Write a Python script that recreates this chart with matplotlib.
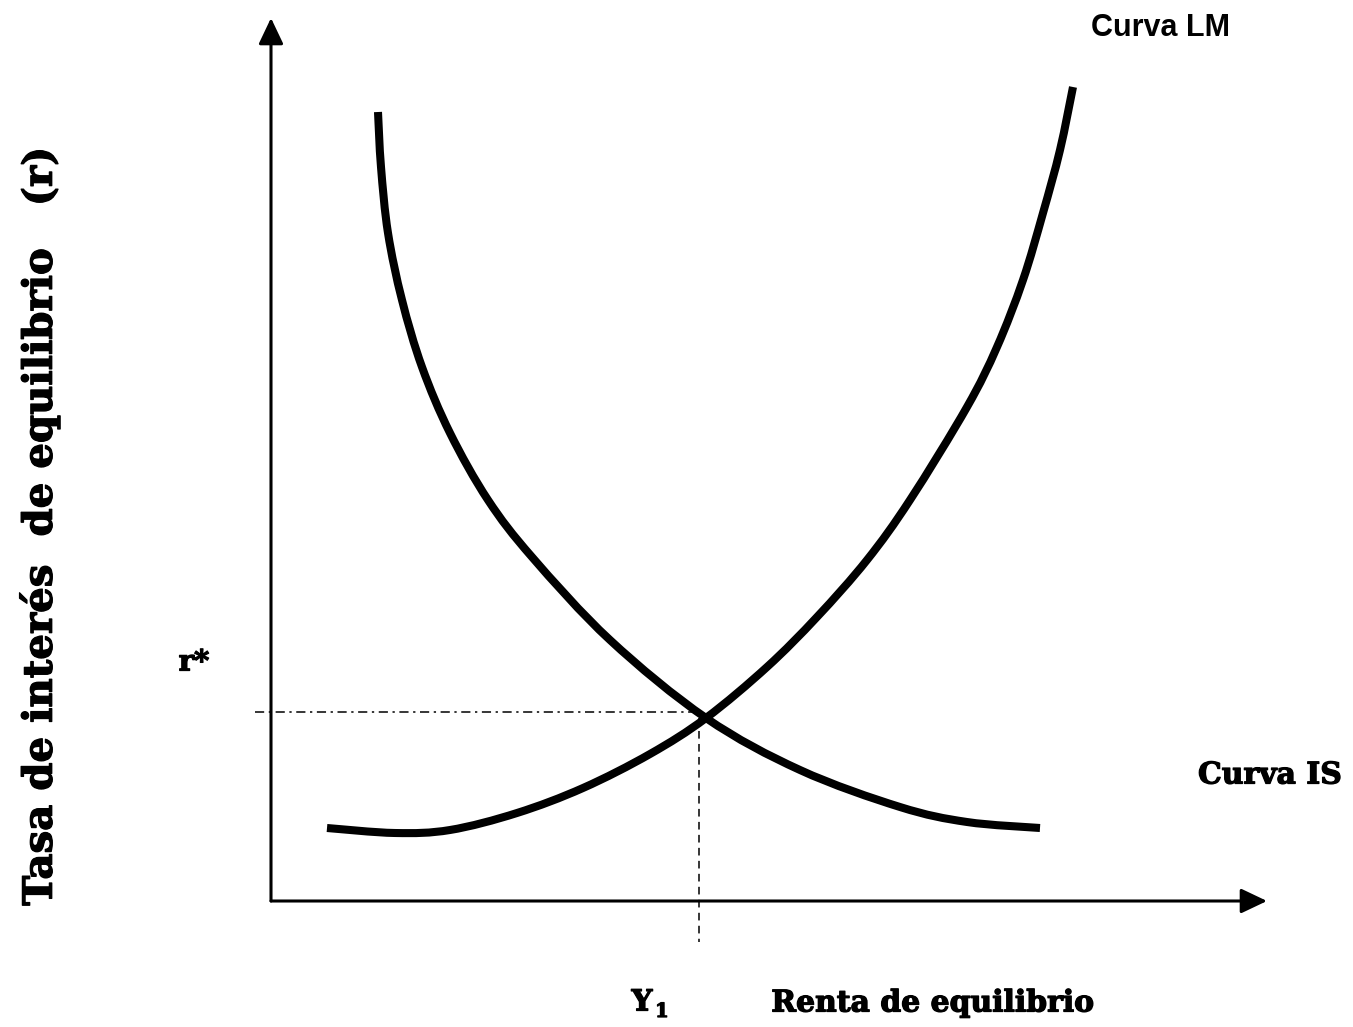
import matplotlib
matplotlib.use('Agg')
import matplotlib.pyplot as plt
import matplotlib.patheffects as pe
from matplotlib.path import Path
from matplotlib.patches import PathPatch

# curve points (income Y, interest rate r)
is_y = [1.07, 1.10, 1.17, 1.31, 1.51, 1.79, 2.17, 2.61, 3.39, 4.35, 5.29, 6.29, 6.96, 7.69]
is_r = [7.89, 7.34, 6.68, 6.01, 5.34, 4.68, 4.01, 3.44, 2.61, 1.83, 1.31, 0.94, 0.79, 0.73]

lm_y = [0.56, 1.24, 1.79, 2.46, 3.12, 3.79, 4.35, 4.96, 5.46, 5.96, 6.39, 6.96, 7.26, 7.52, 7.72, 7.89, 8.02]
lm_r = [0.73, 0.68, 0.71, 0.88, 1.13, 1.47, 1.83, 2.34, 2.84, 3.41, 4.01, 4.94, 5.54, 6.21, 6.88, 7.51, 8.14]

y_eq = 4.28
r_eq = 1.89

x_axis_end = 9.96
y_axis_end = 8.83

serif = 'DejaVu Serif'
heavy = [pe.withStroke(linewidth=0.9, foreground='black')]


def smooth_path(xs, ys):
    """Bezier path through the points (Catmull-Rom tangents)."""
    pts = list(zip(xs, ys))
    verts = [pts[0]]
    codes = [Path.MOVETO]
    for i in range(len(pts) - 1):
        p0 = pts[max(i - 1, 0)]
        p1 = pts[i]
        p2 = pts[i + 1]
        p3 = pts[min(i + 2, len(pts) - 1)]
        c1 = (p1[0] + (p2[0] - p0[0]) / 6, p1[1] + (p2[1] - p0[1]) / 6)
        c2 = (p2[0] - (p3[0] - p1[0]) / 6, p2[1] - (p3[1] - p1[1]) / 6)
        verts += [c1, c2, p2]
        codes += [Path.CURVE4] * 3
    return Path(verts, codes)


fig = plt.figure(figsize=(13.53, 10.27), dpi=100)
ax = fig.add_axes([0, 0, 1, 1])
ax.set_xlim(-2.71, 10.82)
ax.set_ylim(-1.26, 9.01)
ax.axis('off')

# axes with arrow heads
arrow = dict(arrowstyle='-|>,head_length=0.8,head_width=0.38', color='black',
             lw=2.2, mutation_scale=20, shrinkA=0, shrinkB=0)
ax.annotate('', xy=(0, y_axis_end), xytext=(0, 0), arrowprops=arrow)
ax.annotate('', xy=(x_axis_end, 0), xytext=(0, 0), arrowprops=arrow)

# guide lines to the equilibrium
ax.plot([-0.16, y_eq], [r_eq, r_eq], color='black', lw=1.1, ls=(0, (6, 3, 1.5, 3)))
ax.plot([y_eq, y_eq], [r_eq - 0.06, -0.41], color='black', lw=1.1, ls=(0, (5, 3.5)))

# IS and LM curves
for xs, ys in [(is_y, is_r), (lm_y, lm_r)]:
    ax.add_patch(PathPatch(smooth_path(xs, ys), facecolor='none', edgecolor='black',
                           lw=5.8, capstyle='butt', joinstyle='round'))

ax.text(8.90, 8.73, 'Curva LM', fontsize=22, fontweight='bold', family='Liberation Sans',
        ha='center', va='center')
ax.text(9.99, 1.26, 'Curva IS', fontsize=21.5, fontweight='bold', family=serif,
        ha='center', va='center', path_effects=heavy)
ax.text(-0.77, 2.39, 'r*', fontsize=21, fontweight='bold', family=serif,
        ha='center', va='center', path_effects=heavy)
ax.text(3.71, -1.01, 'Y', fontsize=21, fontweight='bold', family=serif,
        ha='center', va='center', path_effects=heavy)
ax.text(3.91, -1.11, '1', fontsize=14, fontweight='bold', family=serif,
        ha='center', va='center', path_effects=heavy)
ax.text(6.62, -1.02, 'Renta de equilibrio', fontsize=21.5, fontweight='bold', family=serif,
        ha='center', va='center', path_effects=heavy)
ax.text(-2.31, 3.74, 'Tasa de interés  de equilibrio   (r)', fontsize=29, fontweight='bold',
        family=serif, rotation=90, ha='center', va='center', path_effects=heavy)

fig.savefig('out.png', dpi=100)
